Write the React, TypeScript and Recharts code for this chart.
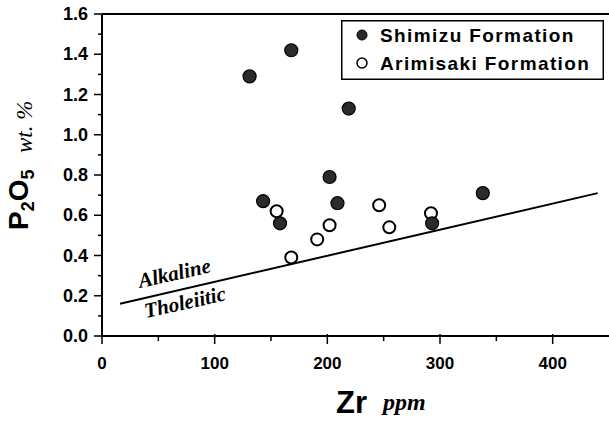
import React from 'react';
import {
  ScatterChart,
  Scatter,
  XAxis,
  YAxis,
  ReferenceLine,
  Legend,
  Customized,
} from 'recharts';

const shimizuZr = [131, 168, 219, 202, 143, 158, 209, 293, 338];
const shimizuP2O5 = [1.29, 1.42, 1.13, 0.79, 0.67, 0.56, 0.66, 0.56, 0.71];

const arimisakiZr = [155, 168, 191, 202, 246, 255, 292];
const arimisakiP2O5 = [0.62, 0.39, 0.48, 0.55, 0.65, 0.54, 0.61];

const boundaryZr = [16, 440];
const boundaryP2O5 = [0.16, 0.71];

const xTicks = [0, 50, 100, 150, 200, 250, 300, 350, 400];
const yTicks = [0, 0.1, 0.2, 0.3, 0.4, 0.5, 0.6, 0.7, 0.8, 0.9, 1.0, 1.1, 1.2, 1.3, 1.4, 1.5, 1.6];

const seriesNames = ['Shimizu Formation', 'Arimisaki Formation'];

const shimizuData = shimizuZr.map((x, i) => ({ x, y: shimizuP2O5[i] }));
const arimisakiData = arimisakiZr.map((x, i) => ({ x, y: arimisakiP2O5[i] }));

const SANS = '"Liberation Sans", Arial, sans-serif';
const SERIF = '"Liberation Serif", "Times New Roman", serif';

const FilledDot = (props: any) => (
  <circle cx={props.cx} cy={props.cy} r={6.5} fill="#2b2b2b" stroke="#000" strokeWidth={1.2} />
);
const OpenDot = (props: any) => (
  <circle cx={props.cx} cy={props.cy} r={6} fill="#fff" stroke="#000" strokeWidth={2} />
);

const XTick = (props: any) => {
  const { x, y, payload } = props;
  const v = payload.value;
  const major = v % 100 === 0;
  return (
    <g>
      <line x1={x} x2={x} y1={major ? y - 2 : y} y2={major ? y + 8 : y + 5} stroke="#000" strokeWidth={1.5} />
      {major && (
        <text x={x} y={y + 33} textAnchor="middle" fontFamily={SANS} fontWeight="bold" fontSize={17} fill="#000">
          {v}
        </text>
      )}
    </g>
  );
};

const YTick = (props: any) => {
  const { x, y, payload } = props;
  const v = payload.value;
  const major = Math.round(v * 10) % 2 === 0;
  return (
    <g>
      <line x1={major ? x - 8 : x - 4} x2={x} y1={y} y2={y} stroke="#000" strokeWidth={1.5} />
      {major && (
        <text x={x - 14} y={y + 6} textAnchor="end" fontFamily={SANS} fontWeight="bold" fontSize={18} fill="#000">
          {v.toFixed(1)}
        </text>
      )}
    </g>
  );
};

const LegendBox = () => (
  <svg width={263} height={60}>
    <rect x={0.75} y={0.75} width={261.5} height={58.5} fill="#fff" stroke="#000" strokeWidth={1.5} />
    <circle cx={21} cy={15} r={5} fill="#2b2b2b" stroke="#000" strokeWidth={1} />
    <text x={39} y={22} fontFamily={SANS} fontWeight="bold" fontSize={19} letterSpacing={1.4} fill="#000">
      {seriesNames[0]}
    </text>
    <circle cx={21} cy={43} r={5} fill="#fff" stroke="#000" strokeWidth={1.5} />
    <text x={39} y={50} fontFamily={SANS} fontWeight="bold" fontSize={19} letterSpacing={1.4} fill="#000">
      {seriesNames[1]}
    </text>
  </svg>
);

const Annotations = () => (
  <g>
    <g transform="translate(28,230) rotate(-90)">
      <text x={0} y={0} fontFamily={SANS} fontWeight="bold" fill="#000">
        <tspan fontSize={28}>P</tspan>
        <tspan fontSize={18} dy={6}>2</tspan>
        <tspan fontSize={28} dy={-6}>O</tspan>
        <tspan fontSize={18} dy={6}>5</tspan>
      </text>
      <text x={77} y={4} fontFamily={SERIF} fontStyle="italic" fontSize={23} fill="#000">
        wt. %
      </text>
    </g>
    <text x={336} y={413} fontFamily={SANS} fontWeight="bold" fontSize={31} fill="#000">
      Zr
    </text>
    <text x={383} y={410} fontFamily={SERIF} fontStyle="italic" fontWeight="bold" fontSize={24} fill="#000">
      ppm
    </text>
    <text
      x={140}
      y={288}
      transform="rotate(-12.5 140 288)"
      fontFamily={SERIF}
      fontStyle="italic"
      fontWeight="bold"
      fontSize={21}
      fill="#000"
    >
      Alkaline
    </text>
    <text
      x={146}
      y={318}
      transform="rotate(-12.5 146 318)"
      fontFamily={SERIF}
      fontStyle="italic"
      fontWeight="bold"
      fontSize={21}
      fill="#000"
    >
      Tholeiitic
    </text>
  </g>
);

export default function App() {
  return (
    <div style={{ position: 'absolute', left: 0, top: 0, width: 609, height: 421, background: '#fff' }}>
      <ScatterChart width={609} height={421} margin={{ top: 14, right: 0, bottom: 0, left: 0 }}>
        <XAxis
          type="number"
          dataKey="x"
          domain={[0, 450]}
          ticks={xTicks}
          interval={0}
          tickSize={0}
          tickMargin={0}
          tickLine={false}
          tick={<XTick />}
          height={85}
          axisLine={{ stroke: '#000', strokeWidth: 2 }}
          allowDataOverflow
        />
        <YAxis
          type="number"
          dataKey="y"
          domain={[0, 1.6]}
          ticks={yTicks}
          interval={0}
          tickSize={0}
          tickMargin={0}
          tickLine={false}
          tick={<YTick />}
          width={102}
          axisLine={{ stroke: '#000', strokeWidth: 2 }}
          allowDataOverflow
        />
        <ReferenceLine y={1.6} stroke="#000" strokeWidth={2} />
        <ReferenceLine
          segment={[
            { x: boundaryZr[0], y: boundaryP2O5[0] },
            { x: boundaryZr[1], y: boundaryP2O5[1] },
          ]}
          stroke="#000"
          strokeWidth={2}
          ifOverflow="visible"
        />
        <Scatter name={seriesNames[1]} data={arimisakiData} shape={OpenDot} isAnimationActive={false} />
        <Scatter name={seriesNames[0]} data={shimizuData} shape={FilledDot} isAnimationActive={false} />
        <Legend
          layout="vertical"
          align="center"
          verticalAlign="middle"
          content={() => <LegendBox />}
          wrapperStyle={{ left: 341, top: 20, width: 263, height: 60 }}
        />
        <Customized component={Annotations} />
      </ScatterChart>
    </div>
  );
}
